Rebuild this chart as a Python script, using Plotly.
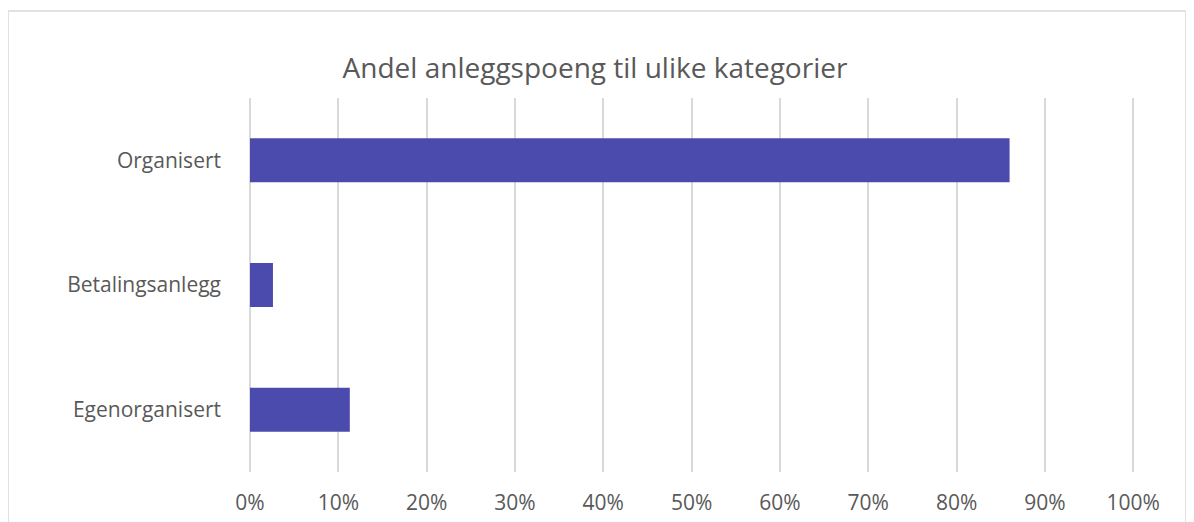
import plotly.graph_objects as go

# data
kategorier = ['Egenorganisert', 'Betalingsanlegg', 'Organisert']
andel = [0.113, 0.026, 0.86]
tick_verdier = [0, 0.1, 0.2, 0.3, 0.4, 0.5, 0.6, 0.7, 0.8, 0.9, 1.0]
tick_tekst = ['0%', '10%', '20%', '30%', '40%', '50%', '60%', '70%', '80%', '90%', '100%']

fig = go.Figure(
    [
        go.Bar(
            x=andel,
            y=kategorier,
            orientation='h',
            marker=dict(color='#4B4BAD', line=dict(width=0)),
            hovertemplate='%{y}: %{x:.1%}<extra></extra>'
        )
    ]
)

fig.update_layout(
    width=1186,
    height=514,
    autosize=False,
    paper_bgcolor='white',
    plot_bgcolor='white',
    bargap=0.647,
    showlegend=False,
    font=dict(family='Open Sans, Liberation Sans, sans-serif', color='#595959'),
    title=dict(
        text='Andel anleggspoeng til ulike kategorier',
        x=587 / 1186,
        xanchor='center',
        y=1 - 60 / 514,
        yanchor='middle',
        font=dict(size=28, color='#595959')
    ),
    xaxis=dict(
        range=[0, 1.002],
        tickvals=tick_verdier,
        ticktext=tick_tekst,
        showgrid=True,
        gridcolor='#d9d9d9',
        gridwidth=1.5,
        zeroline=True,
        zerolinecolor='#d9d9d9',
        zerolinewidth=1.5,
        showline=False,
        ticks='',
        automargin=False,
        ticklabelstandoff=16,
        tickfont=dict(size=21, color='#595959')
    ),
    yaxis=dict(
        showgrid=False,
        zeroline=False,
        showline=False,
        ticks='',
        automargin=False,
        ticklabelstandoff=28,
        tickfont=dict(size=21, color='#595959')
    ),
    margin=dict(l=242, r=59, t=90, b=50, pad=0),
    shapes=[
        dict(
            type='rect',
            xref='paper', yref='paper',
            x0=-242 / 885, x1=1 + 51 / 885,
            y0=-80 / 374, y1=1 + 87 / 374,
            line=dict(color='#d9d9d9', width=1.5),
            fillcolor='rgba(0,0,0,0)',
            layer='below'
        )
    ]
)

fig.write_html("out.html")
